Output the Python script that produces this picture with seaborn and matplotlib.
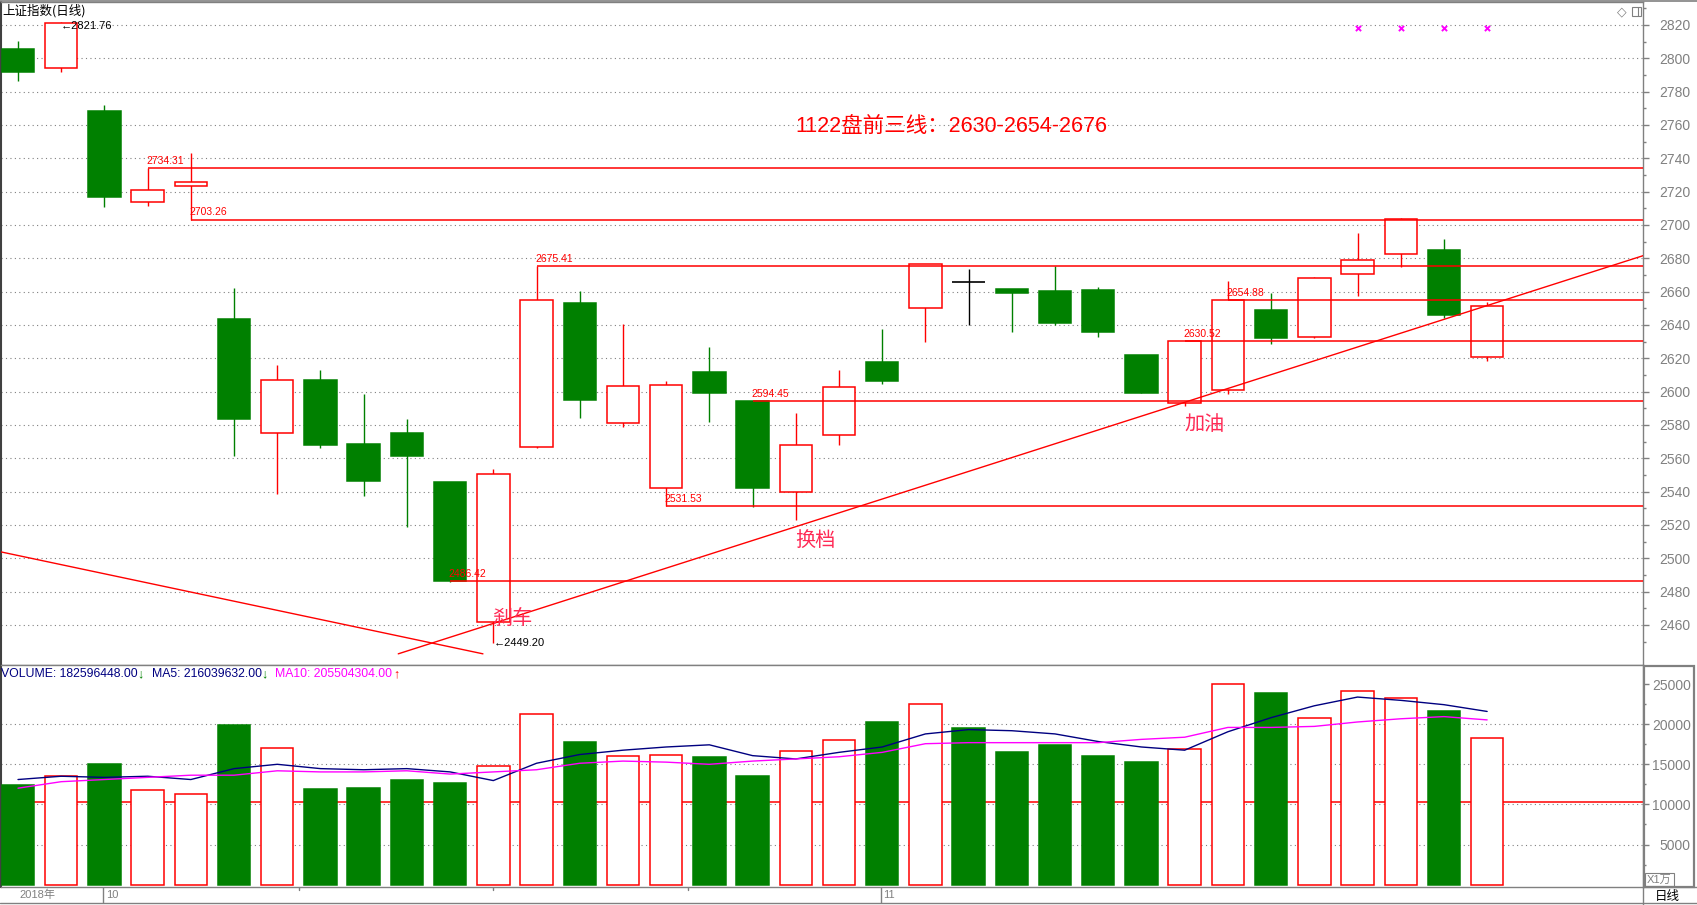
import numpy as np
import pandas as pd
import matplotlib
matplotlib.use('Agg')
import matplotlib.pyplot as plt
import seaborn as sns
from matplotlib.patches import Rectangle
from matplotlib.lines import Line2D

sns.set_theme(style='white')
plt.rcParams['font.family'] = ['Liberation Sans', 'Noto Sans CJK SC', 'DejaVu Sans']

#daily bars of the index, 2018-09-27 .. 2018-11-21
dates = ['09-27', '09-28', '10-08', '10-09', '10-10', '10-11', '10-12', '10-15', '10-16',
         '10-17', '10-18', '10-19', '10-22', '10-23', '10-24', '10-25', '10-26', '10-29',
         '10-30', '10-31', '11-01', '11-02', '11-05', '11-06', '11-07', '11-08', '11-09',
         '11-12', '11-13', '11-14', '11-15', '11-16', '11-19', '11-20', '11-21']
opens = [2805.6, 2794.0, 2768.5, 2713.8, 2723.5, 2643.5, 2575.0, 2607.0, 2568.6,
         2575.2, 2545.8, 2462.0, 2566.5, 2653.2, 2581.0, 2542.0, 2611.8, 2594.4,
         2539.6, 2574.0, 2617.6, 2650.0, 2665.5, 2661.6, 2660.4, 2661.0, 2622.0,
         2593.0, 2601.2, 2649.0, 2632.6, 2670.5, 2682.4, 2685.0, 2620.6]
highs = [2810.4, 2821.76, 2772.0, 2734.31, 2743.4, 2662.2, 2616.0, 2613.0, 2598.6,
         2583.6, 2546.0, 2553.4, 2675.41, 2660.4, 2640.4, 2606.2, 2626.8, 2594.45,
         2587.2, 2613.0, 2637.6, 2676.5, 2673.6, 2661.6, 2675.6, 2662.6, 2622.0,
         2630.52, 2666.6, 2659.2, 2668.6, 2695.2, 2704.0, 2691.6, 2653.8]
lows = [2786.6, 2792.0, 2711.0, 2711.4, 2703.26, 2561.6, 2538.4, 2566.0, 2537.6,
        2519.0, 2486.0, 2449.20, 2566.0, 2584.4, 2579.0, 2531.53, 2582.0, 2530.6,
        2523.0, 2568.2, 2604.8, 2630.0, 2640.2, 2636.0, 2640.2, 2633.0, 2598.9,
        2591.6, 2598.4, 2628.6, 2632.0, 2657.6, 2675.0, 2644.0, 2618.6]
closes = [2791.8, 2821.4, 2716.5, 2721.0, 2725.8, 2583.5, 2606.9, 2568.1, 2546.3,
          2561.6, 2486.42, 2550.5, 2654.9, 2594.8, 2603.3, 2603.8, 2598.9, 2542.1,
          2568.1, 2602.8, 2606.2, 2676.5, 2665.5, 2659.4, 2641.3, 2635.6, 2598.9,
          2630.52, 2654.88, 2632.2, 2668.2, 2679.1, 2703.5, 2645.9, 2651.5]
#volume in units of 10 000
volumes = [12440, 13500, 15010, 11760, 11350, 19880, 17040, 11900, 12030,
           13110, 12710, 14740, 21230, 17850, 16090, 16230, 15950, 13510,
           16630, 17990, 20290, 22590, 19480, 16500, 17440, 16090, 15280,
           16980, 25030, 23940, 20830, 24210, 23260, 21640, 18260]
ma5 = [13110, 13520, 13380, 13520, 13110, 14470, 15010, 14470, 14330,
       14470, 14060, 12980, 15140, 16230, 16770, 17170, 17440, 16090,
       15680, 16500, 17170, 18800, 19340, 19200, 18800, 17850, 17170,
       16770, 19070, 20830, 22310, 23400, 22990, 22450, 21604]
ma10 = [12030, 12840, 13110, 13380, 13650, 13650, 14200, 14060, 14060,
        14200, 13790, 14060, 14330, 15140, 15410, 15280, 15010, 15410,
        15680, 15950, 16500, 17580, 17710, 17710, 17710, 17710, 18120,
        18390, 19610, 19610, 19740, 20290, 20690, 20960, 20550]
last_volume = 182596448.00
last_ma5 = 216039632.00
last_ma10 = 205504304.00
volume_line = 10300

#marked price levels and the bar each line starts from
level_prices = [2734.31, 2703.26, 2675.41, 2594.45, 2531.53, 2486.42, 2630.52, 2654.88]
level_bars = [3, 4, 12, 17, 15, 10, 27, 28]
#hand drawn trend lines (bar position, price)
trend_up_x = [8.80, 37.61]
trend_up_y = [2442.7, 2681.6]
trend_down_x = [-0.42, 10.76]
trend_down_y = [2504.0, 2442.7]
#notes
notes = ['刹车', '换档', '加油']
note_x = [11.45, 18.46, 27.45]
note_y = [2464.0, 2511.0, 2580.0]
title_note = '1122盘前三线：2630-2654-2676'
marker_bars = [31, 32, 33, 34]
marker_price = 2818.2

GREEN = '#008000'
RED = '#ff0000'
GRAY = '#808080'

df = pd.DataFrame({'date': dates, 'open': opens, 'high': highs, 'low': lows,
                   'close': closes, 'volume': volumes, 'ma5': ma5, 'ma10': ma10})
df['x'] = np.arange(len(df))

W, H = 1697, 905
def box(x0, y0, x1, y1):
    return [x0 / W, 1 - y1 / H, (x1 - x0) / W, (y1 - y0) / H]

fig = plt.figure(figsize=(W / 100, H / 100), dpi=100)
ax = fig.add_axes(box(1, 2, 1643, 665))
axv = fig.add_axes(box(1, 665, 1643, 887))
axd = fig.add_axes(box(1, 887, 1643, 903))
xlim = ((1 - 18) / 43.21, (1643 - 18) / 43.21)

#candles
for _, r in df.iterrows():
    if r['close'] > r['open']:
        col, face = RED, 'white'
    elif r['close'] < r['open']:
        col, face = GREEN, GREEN
    else:
        col, face = 'black', 'black'
    ax.vlines(r['x'], r['low'], r['high'], color=col, lw=1, zorder=2)
    if col == 'black':
        ax.hlines(r['open'], r['x'] - 0.375, r['x'] + 0.375, color=col, lw=1.2, zorder=3)
    else:
        ax.bar(r['x'], abs(r['close'] - r['open']), bottom=min(r['open'], r['close']),
               width=0.75, facecolor=face, edgecolor=col, linewidth=1.1, zorder=3)

#level lines with their labels
for p, b in zip(level_prices, level_bars):
    ax.hlines(p, b, xlim[1], color=RED, lw=1.1, zorder=4)
    ax.annotate(f'{p:.2f}', (b, p), xytext=(-1, 1.5), textcoords='offset points',
                ha='left', va='bottom', fontsize=7.5, color=RED, zorder=5)
ax.plot(trend_up_x, trend_up_y, color=RED, lw=1, zorder=4)
ax.plot(trend_down_x, trend_down_y, color=RED, lw=1, zorder=4)
for t, x, y in zip(notes, note_x, note_y):
    ax.text(x, y, t, fontsize=14.5, color='#ff2a55', ha='center', va='center', zorder=6,
            family=['Noto Sans CJK SC', 'DejaVu Sans'])
ax.text(17.98, 2758.5, title_note, fontsize=15.5, color=RED, ha='left', va='center',
        family=['Liberation Sans', 'Noto Sans CJK SC', 'DejaVu Sans'])
#extremes
hi = int(np.argmax(highs))
lo = int(np.argmin(lows))
ax.annotate(f'←{highs[hi]:.2f}', (hi, highs[hi]), xytext=(0, -2.5), textcoords='offset points',
            ha='left', va='center', fontsize=8, color='black', zorder=6)
ax.annotate(f'←{lows[lo]:.2f}', (lo, lows[lo]), xytext=(0, 0), textcoords='offset points',
            ha='left', va='center', fontsize=8, color='black', zorder=6)
ax.scatter(marker_bars, [marker_price] * len(marker_bars), marker='x', s=14,
           color='#ff00ff', linewidths=1.4, zorder=5)

ax.set_xlim(*xlim)
ax.set_ylim(2436, 2833.8)
for y in range(2460, 2821, 20):
    ax.axhline(y, color=GRAY, lw=0.8, ls=(0, (1, 3)), zorder=1)

#volume panel
for _, r in df.iterrows():
    up = r['close'] > r['open']
    axv.bar(r['x'], r['volume'], width=0.75, facecolor='white' if up else GREEN,
            edgecolor=RED if up else GREEN, linewidth=1.1, zorder=3)
sns.lineplot(data=df, x='x', y='ma5', ax=axv, color='#000080', lw=1, zorder=4)
sns.lineplot(data=df, x='x', y='ma10', ax=axv, color='#ff00ff', lw=1, zorder=4)
axv.axhline(volume_line, color=RED, lw=1.1, zorder=2)
for y in range(5000, 20001, 5000):
    axv.axhline(y, color=GRAY, lw=0.8, ls=(0, (1, 3)), zorder=1)
axv.set_xlim(*xlim)
axv.set_ylim(-300, 27400)
axv.set_xlabel('')
axv.set_ylabel('')

for a, major, minor in [(ax, np.arange(2460, 2821, 20), np.arange(2450, 2831, 10)),
                        (axv, np.arange(5000, 25001, 5000), np.arange(2500, 27001, 2500))]:
    a.set_xticks([])
    a.yaxis.tick_right()
    a.set_yticks(major)
    a.set_yticks(minor, minor=True)
    a.tick_params(axis='y', which='major', length=4.3, width=1, color=GRAY, labelcolor=GRAY,
                  labelsize=10, pad=30, direction='out')
    a.tick_params(axis='y', which='minor', length=2.2, width=1, color=GRAY, direction='out')
    for lab in a.get_yticklabels():
        lab.set_horizontalalignment('right')
        lab.set_family(['Liberation Sans Narrow', 'Liberation Sans', 'DejaVu Sans'])
    for s in a.spines.values():
        s.set_color(GRAY)
        s.set_linewidth(1)
    a.spines['left'].set_color('#404040')
    a.spines['left'].set_linewidth(1.5)
    a.set_facecolor('white')

#date strip
axd.set_xlim(*xlim)
axd.set_ylim(0, 1)
axd.axis('off')
axd.text(0.44, 0.5, '2018年', fontsize=8, color=GRAY, ha='center', va='center')
for b, lab in [(2, '10'), (20, '11')]:
    axd.axvline(b - 0.03, color=GRAY, lw=1)
    axd.text(b + 0.03, 0.5, lab, fontsize=8, color=GRAY, ha='left', va='center')
for b in [6.5, 11, 15.5]:
    axd.plot([b, b], [0.8, 1], color=GRAY, lw=1)

#headers
fig.text(2 / W, 1 - 11 / H, '上证指数(日线)', fontsize=9, color='black', va='center',
         family=['Noto Sans CJK SC', 'DejaVu Sans'])
y0 = 1 - 674 / H
fig.text(1 / W, y0, f'VOLUME: {last_volume:.2f}', fontsize=8.8, color='#000080', va='center')
fig.text(137 / W, y0, '↓', fontsize=9, color=GREEN, va='center', fontweight='bold')
fig.text(152 / W, y0, f'MA5: {last_ma5:.2f}', fontsize=8.8, color='#000080', va='center')
fig.text(261 / W, y0, '↓', fontsize=9, color=GREEN, va='center', fontweight='bold')
fig.text(275 / W, y0, f'MA10: {last_ma10:.2f}', fontsize=8.8, color='#ff00ff', va='center')
fig.text(393 / W, y0, '↑', fontsize=9, color=RED, va='center', fontweight='bold')

#frame pieces on the right
fig.add_artist(Line2D([0, 1], [1 - 1.5 / H] * 2, color=GRAY, lw=1.2))
fig.add_artist(Line2D([1643 / W, 1], [1 - 887 / H] * 2, color=GRAY, lw=1))
fig.add_artist(Line2D([0, 1], [1 - 903 / H] * 2, color=GRAY, lw=1))
fig.add_artist(Line2D([1643 / W] * 2, [0, 1 - 887 / H], color=GRAY, lw=1))
fig.add_artist(Rectangle((1644 / W, 1 - 887 / H), 50 / W, 221 / H, transform=fig.transFigure,
                         fill=False, edgecolor=GRAY, lw=1.6))
fig.add_artist(Rectangle((1645 / W, 1 - 886 / H), 29 / W, 13 / H, transform=fig.transFigure,
                         fill=False, edgecolor=GRAY, lw=0.8))
fig.text(1659.5 / W, 1 - 879.5 / H, 'X1万', fontsize=8, color=GRAY, ha='center', va='center',
         family=['Liberation Sans', 'Noto Sans CJK SC'])
fig.text(1667 / W, 1 - 896 / H, '日线', fontsize=9, color='black', ha='center', va='center',
         family=['Noto Sans CJK SC', 'DejaVu Sans'])
fig.text(1622 / W, 1 - 12 / H, '◇', fontsize=9, color=GRAY, ha='center', va='center',
         family=['DejaVu Sans'])
fig.add_artist(Rectangle((1632 / W, 1 - 16 / H), 9 / W, 9 / H, transform=fig.transFigure,
                         fill=False, edgecolor=GRAY, lw=0.8))
fig.add_artist(Line2D([1638 / W] * 2, [1 - 16 / H, 1 - 7 / H], color=GRAY, lw=0.8))

fig.savefig('out.png', dpi=100, facecolor='white')
